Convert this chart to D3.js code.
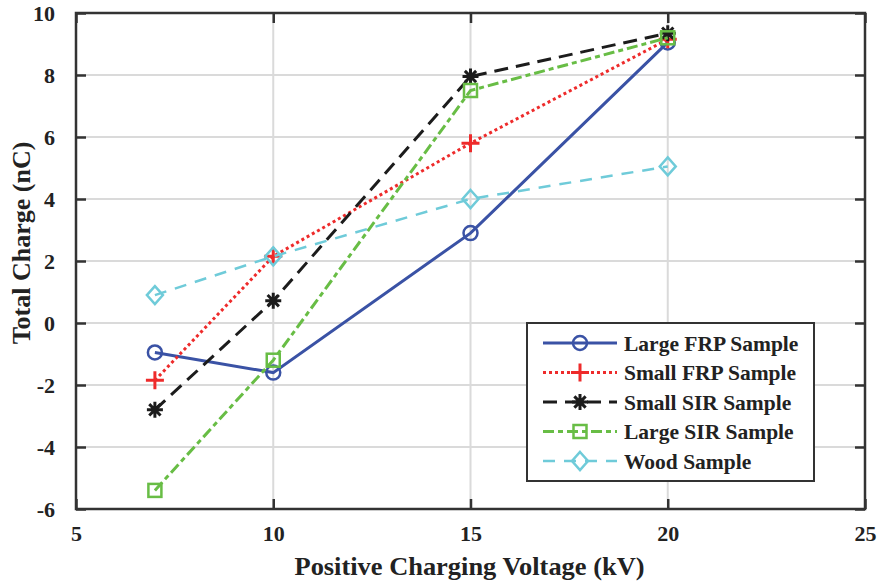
<!DOCTYPE html>
<html><head><meta charset="utf-8">
<script src="https://cdn.jsdelivr.net/npm/d3@7"></script>
<style>body{margin:0;background:#fff}svg{display:block}text{font-family:"Liberation Serif","Times New Roman",serif;font-weight:bold;fill:#222}</style>
</head><body><svg id="c" width="879" height="583"></svg>
<script>
const voltages = [7, 10, 15, 20];
const seriesNames = ["Large FRP Sample", "Small FRP Sample", "Small SIR Sample", "Large SIR Sample", "Wood Sample"];
const largeFRP = [-0.95, -1.6, 2.9, 9.05];
const smallFRP = [-1.85, 2.15, 5.8, 9.15];
const smallSIR = [-2.8, 0.72, 7.95, 9.35];
const largeSIR = [-5.4, -1.2, 7.5, 9.2];
const wood = [0.9, 2.15, 4.0, 5.05];
const xTicks = [5, 10, 15, 20, 25];
const yTicks = [-6, -4, -2, 0, 2, 4, 6, 8, 10];

const styles = [
  {color:"#3a52a5", dash:null, w:3, marker:"circle"},
  {color:"#ee2b2b", dash:"3,3", w:3, marker:"plus"},
  {color:"#1c1c1c", dash:"14,8", w:3, marker:"star"},
  {color:"#68bd45", dash:"11,4,5,4", w:3, marker:"square"},
  {color:"#6fcbd9", dash:"12,9", w:2.5, marker:"diamond"}
];
const data = [largeFRP, smallFRP, smallSIR, largeSIR, wood];

const svg = d3.select("#c");
const L=76, R=865, T=13, B=509;
const x = d3.scaleLinear().domain([5,25]).range([L,R]);
const y = d3.scaleLinear().domain([-6,10]).range([B,T]);

// grid
svg.append("g").selectAll("line").data(xTicks.slice(1,-1)).join("line")
  .attr("x1",d=>x(d)).attr("x2",d=>x(d)).attr("y1",T).attr("y2",B)
  .attr("stroke","#dadada").attr("stroke-width",2);
svg.append("g").selectAll("line").data(yTicks.slice(1,-1)).join("line")
  .attr("y1",d=>y(d)).attr("y2",d=>y(d)).attr("x1",L).attr("x2",R)
  .attr("stroke","#dadada").attr("stroke-width",2);

// axes
const fmt = d=>String(d);
const ax = (g)=>g.call(s=>s.select(".domain").remove()).call(s=>s.selectAll("line").attr("stroke","#333").attr("stroke-width",2.5));
const tickFont = s=>s.selectAll("text").attr("font-size",22).attr("font-family","Liberation Serif").attr("font-weight","bold").attr("fill","#222");
svg.append("g").attr("transform",`translate(0,${B})`)
  .call(d3.axisBottom(x).tickValues(xTicks).tickSizeInner(-10).tickSizeOuter(0).tickPadding(16).tickFormat(fmt))
  .call(ax).call(tickFont);
svg.append("g").attr("transform",`translate(0,${T})`)
  .call(d3.axisTop(x).tickValues(xTicks).tickSizeInner(-10).tickSizeOuter(0).tickFormat(""))
  .call(ax);
svg.append("g").attr("transform",`translate(${L},0)`)
  .call(d3.axisLeft(y).tickValues(yTicks).tickSizeInner(-10).tickSizeOuter(0).tickPadding(21).tickFormat(fmt))
  .call(ax).call(tickFont);
svg.append("g").attr("transform",`translate(${R},0)`)
  .call(d3.axisRight(y).tickValues(yTicks).tickSizeInner(-10).tickSizeOuter(0).tickFormat(""))
  .call(ax);
svg.append("rect").attr("x",L).attr("y",T).attr("width",R-L).attr("height",B-T)
  .attr("fill","none").attr("stroke","#333").attr("stroke-width",2.5);

// markers
function drawMarker(g, type, color, cx, cy){
  if(type==="circle") g.append("circle").attr("cx",cx).attr("cy",cy).attr("r",7).attr("fill","none").attr("stroke",color).attr("stroke-width",2.5);
  if(type==="plus") g.append("path").attr("d",`M${cx-9},${cy}H${cx+9}M${cx},${cy-9}V${cy+9}`).attr("stroke",color).attr("stroke-width",3);
  if(type==="star"){ let p=""; const r=8; for(const a of [0,45,90,135]){const t=a*Math.PI/180; p+=`M${cx-r*Math.cos(t)},${cy-r*Math.sin(t)}L${cx+r*Math.cos(t)},${cy+r*Math.sin(t)}`;} g.append("path").attr("d",p).attr("stroke",color).attr("stroke-width",3);}
  if(type==="square") g.append("rect").attr("x",cx-6.5).attr("y",cy-6.5).attr("width",13).attr("height",13).attr("fill","none").attr("stroke",color).attr("stroke-width",2.5);
  if(type==="diamond") g.append("path").attr("d",`M${cx},${cy-9}L${cx+8},${cy}L${cx},${cy+9}L${cx-8},${cy}Z`).attr("fill","none").attr("stroke",color).attr("stroke-width",2.5);
}

const line = d3.line().x((d,i)=>x(voltages[i])).y(d=>y(d));
data.forEach((vals,k)=>{
  const st=styles[k];
  const g=svg.append("g");
  g.append("path").attr("d",line(vals)).attr("fill","none").attr("stroke",st.color)
    .attr("stroke-width",st.w).attr("stroke-dasharray",st.dash);
  vals.forEach((v,i)=>drawMarker(g, st.marker, st.color, x(voltages[i]), y(v)));
});

// legend
const lg = svg.append("g");
lg.append("rect").attr("x",527).attr("y",323).attr("width",287).attr("height",158)
  .attr("fill","#fff").attr("stroke","#333").attr("stroke-width",2);
seriesNames.forEach((n,k)=>{
  const st=styles[k]; const yy=343+k*29.5;
  lg.append("line").attr("x1",543).attr("x2",617).attr("y1",yy).attr("y2",yy)
    .attr("stroke",st.color).attr("stroke-width",st.w).attr("stroke-dasharray",st.dash);
  drawMarker(lg, st.marker, st.color, 580, yy);
  lg.append("text").attr("x",624).attr("y",yy).attr("dy","0.35em").attr("font-size",21.5).text(n);
});

// titles
svg.append("text").attr("x",(L+R)/2 - 1).attr("y",575).attr("text-anchor","middle")
  .attr("font-size",26).attr("textLength",350).attr("lengthAdjust","spacingAndGlyphs").text("Positive Charging Voltage (kV)");
svg.append("text").attr("transform",`translate(30,${(T+B)/2-18}) rotate(-90)`).attr("text-anchor","middle")
  .attr("font-size",26).text("Total Charge (nC)");
</script></body></html>
